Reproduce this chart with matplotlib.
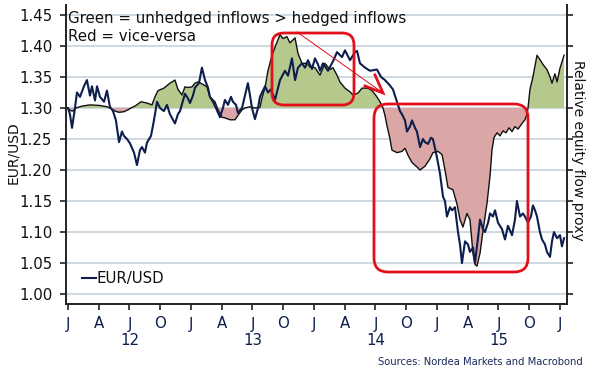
import matplotlib
matplotlib.use("Agg")
import matplotlib.pyplot as plt
import matplotlib.transforms as mtransforms
from matplotlib.patches import FancyBboxPatch
from matplotlib.lines import Line2D
import numpy as np

# ---------------- data ----------------
# EUR/USD (left axis), x in decimal years
eur_x = [2012.000, 2012.016, 2012.033, 2012.057, 2012.073, 2012.098, 2012.130, 2012.154, 2012.179, 2012.195,
         2012.220, 2012.236, 2012.260, 2012.293, 2012.317, 2012.341, 2012.366, 2012.390, 2012.415, 2012.439,
         2012.455, 2012.480, 2012.504, 2012.537, 2012.561, 2012.585, 2012.602, 2012.626, 2012.642, 2012.675,
         2012.699, 2012.724, 2012.748, 2012.780, 2012.805, 2012.829, 2012.870, 2012.894, 2012.911, 2012.951,
         2012.976, 2012.992, 2013.016, 2013.033, 2013.065, 2013.089, 2013.114, 2013.138, 2013.154, 2013.179,
         2013.203, 2013.236, 2013.260, 2013.276, 2013.301, 2013.325, 2013.341, 2013.366, 2013.382, 2013.415,
         2013.439, 2013.463, 2013.480, 2013.496, 2013.520, 2013.545, 2013.561, 2013.585, 2013.602, 2013.626,
         2013.650, 2013.683, 2013.724, 2013.764, 2013.789, 2013.821, 2013.846, 2013.870, 2013.902, 2013.927,
         2013.951, 2013.984, 2014.008, 2014.033, 2014.049, 2014.073, 2014.114, 2014.154, 2014.187, 2014.228,
         2014.252, 2014.293, 2014.333, 2014.350, 2014.374, 2014.415, 2014.455, 2014.512, 2014.545, 2014.577,
         2014.610, 2014.642, 2014.675, 2014.699, 2014.715, 2014.740, 2014.756, 2014.780, 2014.797, 2014.821,
         2014.837, 2014.862, 2014.886, 2014.902, 2014.927, 2014.951, 2014.967, 2014.984, 2015.000, 2015.024,
         2015.049, 2015.065, 2015.081, 2015.106, 2015.122, 2015.146, 2015.171, 2015.187, 2015.203, 2015.228,
         2015.252, 2015.268, 2015.293, 2015.309, 2015.333, 2015.350, 2015.374, 2015.390, 2015.415, 2015.431,
         2015.455, 2015.472, 2015.496, 2015.528, 2015.553, 2015.577, 2015.610, 2015.634, 2015.650, 2015.675,
         2015.699, 2015.715, 2015.740, 2015.764, 2015.780, 2015.797, 2015.813, 2015.837, 2015.854, 2015.878,
         2015.894, 2015.919, 2015.935, 2015.951, 2015.976, 2016.000, 2016.016, 2016.033]
eur_y = [1.300, 1.290, 1.268, 1.300, 1.325, 1.318, 1.335, 1.345, 1.320, 1.335,
         1.312, 1.335, 1.318, 1.310, 1.328, 1.302, 1.295, 1.280, 1.245, 1.262,
         1.255, 1.250, 1.243, 1.228, 1.208, 1.232, 1.237, 1.228, 1.244, 1.255,
         1.280, 1.310, 1.300, 1.295, 1.305, 1.290, 1.275, 1.290, 1.295, 1.323,
         1.315, 1.308, 1.320, 1.333, 1.340, 1.365, 1.345, 1.333, 1.318, 1.310,
         1.300, 1.285, 1.300, 1.313, 1.305, 1.318, 1.310, 1.305, 1.292, 1.300,
         1.320, 1.340, 1.320, 1.300, 1.282, 1.300, 1.318, 1.328, 1.335, 1.325,
         1.330, 1.313, 1.345, 1.360, 1.352, 1.380, 1.345, 1.365, 1.372, 1.365,
         1.377, 1.363, 1.380, 1.370, 1.360, 1.372, 1.360, 1.375, 1.390, 1.382,
         1.393, 1.377, 1.390, 1.392, 1.372, 1.365, 1.360, 1.362, 1.350, 1.345,
         1.338, 1.330, 1.310, 1.295, 1.290, 1.280, 1.262, 1.270, 1.280, 1.268,
         1.262, 1.237, 1.250, 1.245, 1.242, 1.252, 1.250, 1.235, 1.220, 1.195,
         1.157, 1.150, 1.125, 1.140, 1.135, 1.140, 1.100, 1.080, 1.050, 1.085,
         1.080, 1.068, 1.075, 1.050, 1.090, 1.120, 1.105, 1.100, 1.115, 1.130,
         1.125, 1.135, 1.115, 1.105, 1.088, 1.110, 1.095, 1.120, 1.150, 1.125,
         1.130, 1.125, 1.115, 1.125, 1.143, 1.135, 1.125, 1.100, 1.088, 1.080,
         1.068, 1.060, 1.085, 1.100, 1.090, 1.095, 1.077, 1.090]

# Relative equity flow proxy (right axis, drawn on the same scale; 1.30 = neutral)
flow_x = [2012.000, 2012.016, 2012.041, 2012.065, 2012.114, 2012.179, 2012.260, 2012.317, 2012.350, 2012.382,
          2012.415, 2012.455, 2012.488, 2012.512, 2012.553, 2012.593, 2012.642, 2012.683, 2012.707, 2012.732,
          2012.780, 2012.829, 2012.870, 2012.894, 2012.927, 2012.951, 2012.976, 2013.008, 2013.033, 2013.057,
          2013.098, 2013.130, 2013.154, 2013.195, 2013.220, 2013.252, 2013.276, 2013.317, 2013.358, 2013.382,
          2013.415, 2013.439, 2013.480, 2013.520, 2013.561, 2013.577, 2013.602, 2013.626, 2013.659, 2013.683,
          2013.724, 2013.748, 2013.780, 2013.805, 2013.846, 2013.870, 2013.902, 2013.943, 2013.967, 2014.008,
          2014.049, 2014.089, 2014.130, 2014.154, 2014.187, 2014.211, 2014.252, 2014.293, 2014.317, 2014.358,
          2014.390, 2014.439, 2014.472, 2014.504, 2014.537, 2014.561, 2014.577, 2014.593, 2014.618, 2014.634,
          2014.675, 2014.715, 2014.740, 2014.764, 2014.797, 2014.837, 2014.862, 2014.902, 2014.943, 2014.967,
          2015.008, 2015.041, 2015.065, 2015.089, 2015.130, 2015.163, 2015.187, 2015.211, 2015.244, 2015.268,
          2015.293, 2015.309, 2015.325, 2015.350, 2015.366, 2015.407, 2015.431, 2015.447, 2015.463, 2015.488,
          2015.512, 2015.537, 2015.561, 2015.585, 2015.610, 2015.634, 2015.659, 2015.691, 2015.715, 2015.732,
          2015.740, 2015.756, 2015.780, 2015.813, 2015.837, 2015.862, 2015.894, 2015.919, 2015.935, 2015.959,
          2015.976, 2016.000, 2016.033]
flow_y = [1.300, 1.296, 1.295, 1.300, 1.303, 1.305, 1.304, 1.302, 1.299, 1.295,
          1.293, 1.294, 1.297, 1.300, 1.304, 1.310, 1.308, 1.305, 1.318, 1.328,
          1.332, 1.340, 1.345, 1.330, 1.321, 1.334, 1.333, 1.334, 1.340, 1.342,
          1.338, 1.334, 1.318, 1.310, 1.297, 1.285, 1.284, 1.281, 1.281, 1.288,
          1.297, 1.300, 1.302, 1.300, 1.301, 1.316, 1.333, 1.360, 1.385, 1.398,
          1.418, 1.412, 1.415, 1.405, 1.413, 1.388, 1.372, 1.372, 1.366, 1.365,
          1.353, 1.372, 1.362, 1.365, 1.353, 1.342, 1.332, 1.326, 1.321, 1.324,
          1.332, 1.332, 1.328, 1.320, 1.310, 1.300, 1.288, 1.272, 1.250, 1.232,
          1.228, 1.230, 1.235, 1.224, 1.212, 1.205, 1.200, 1.206, 1.218, 1.228,
          1.230, 1.225, 1.200, 1.172, 1.168, 1.145, 1.120, 1.108, 1.130, 1.120,
          1.065, 1.048, 1.045, 1.066, 1.090, 1.147, 1.190, 1.232, 1.252, 1.260,
          1.255, 1.263, 1.260, 1.268, 1.262, 1.270, 1.266, 1.275, 1.281, 1.290,
          1.300, 1.330, 1.350, 1.385, 1.378, 1.370, 1.362, 1.350, 1.340, 1.355,
          1.342, 1.364, 1.385]

flow_neutral = 1.30
y_ticks = [1.00, 1.05, 1.10, 1.15, 1.20, 1.25, 1.30, 1.35, 1.40, 1.45]
x_tick_pos = [2012 + q * 0.25 for q in range(17)]
x_tick_labels = ["J", "A", "J", "O"] * 4 + ["J"]
year_labels = ["12", "13", "14", "15"]
year_pos = [2012.5, 2013.5, 2014.5, 2015.5]

# ---------------- styling ----------------
plt.rcParams['font.family'] = ['DejaVu Sans']
NAVY = "#0d1e4e"
GREEN = "#b5c98d"
RED_FILL = "#dba7a6"
RED = "#e2101b"
GRID = "#cad6de"
TXT = "#111111"

W, H = 594, 369
fig = plt.figure(figsize=(W / 100, H / 100), dpi=100)
ax = fig.add_axes([66 / W, 65 / H, 501 / W, 299 / H])

fx = np.array(flow_x)
fy = np.array(flow_y)
ax.fill_between(fx, fy, flow_neutral, where=fy >= flow_neutral, interpolate=True,
                color=GREEN, lw=0, zorder=2)
ax.fill_between(fx, fy, flow_neutral, where=fy <= flow_neutral, interpolate=True,
                color=RED_FILL, lw=0, zorder=2)
ax.plot(fx, fy, color="#111111", lw=1.0, zorder=3)
ax.plot(eur_x, eur_y, color=NAVY, lw=1.5, zorder=4, label="EUR/USD")

ax.set_xlim(2011.984, 2016.057)
ax.set_ylim(0.984, 1.466)
ax.set_yticks(y_ticks)
ax.set_yticklabels([f"{v:.2f}" for v in y_ticks])
ax.set_xticks(x_tick_pos)
ax.set_xticklabels(x_tick_labels)
ax.yaxis.grid(True, color=GRID, lw=1.3)
ax.set_axisbelow(True)

for s in ["left", "bottom", "right"]:
    ax.spines[s].set_color("#222222")
    ax.spines[s].set_linewidth(1.4)
ax.spines["top"].set_visible(False)
ax.tick_params(axis="y", direction="out", length=4, width=1.2, labelsize=10.8,
               colors="#222222", labelcolor=TXT, right=True, labelright=False, pad=6)
ax.tick_params(axis="x", direction="out", length=4, width=1.2, labelsize=10.8,
               colors="#222222", labelcolor="#0d1e4e", pad=5)

trans = mtransforms.blended_transform_factory(ax.transData, ax.transAxes)
for xp, lab in zip(year_pos, year_labels):
    ax.text(xp, -0.122, lab, transform=trans, ha="center", va="center",
            fontsize=10.8, color="#0d1e4e")

fig.text(13 / W, 1 - 153 / H, "EUR/USD", rotation=90,
         ha="center", va="center", fontsize=10, color=TXT)
fig.text(578 / W, 1 - 150 / H, "Relative equity flow proxy", rotation=270,
         ha="center", va="center", fontsize=10, color=TXT)

fig.text(68 / W, 1 - 23 / H, "Green = unhedged inflows > hedged inflows",
         ha="left", va="baseline", fontsize=10.8, color=TXT)
fig.text(68 / W, 1 - 41 / H, "Red = vice-versa",
         ha="left", va="baseline", fontsize=10.8, color=TXT)

leg = ax.legend(loc="center left", bbox_to_anchor=((82 - 66) / 501, (304 - 279) / 299),
                frameon=False, handlelength=0.9, handletextpad=0.1, borderpad=0,
                borderaxespad=0, fontsize=10.8)
for t in leg.get_texts():
    t.set_color(TXT)

fig.text(583 / W, 1 - 362 / H, "Sources: Nordea Markets and Macrobond",
         ha="right", va="center", fontsize=7.2, color="#1b2a5a")

# annotation boxes and arrow (in inches on the figure)
inch = fig.dpi_scale_trans
box1 = FancyBboxPatch((2.72, (H - 105) / 100), 0.82, 0.72,
                      boxstyle="round,pad=0,rounding_size=0.12",
                      transform=inch, fill=False, edgecolor=RED, lw=2.0,
                      clip_on=False, zorder=6)
box2 = FancyBboxPatch((3.74, (H - 272) / 100), 1.54, 1.68,
                      boxstyle="round,pad=0,rounding_size=0.14",
                      transform=inch, fill=False, edgecolor=RED, lw=2.0,
                      clip_on=False, zorder=6)
ax.add_patch(box1)
ax.add_patch(box2)
tip = (3.83, (H - 93) / 100)
ax.add_line(Line2D([2.97, tip[0]], [(H - 32) / 100, tip[1]], transform=inch,
                   color=RED, lw=0.7, clip_on=False, zorder=6))
ax.add_line(Line2D([3.75, tip[0], 3.65], [(H - 75) / 100, tip[1], (H - 86) / 100],
                   transform=inch, color=RED, lw=2.0, clip_on=False, zorder=6,
                   solid_joinstyle="miter"))

fig.savefig("out.png", dpi=100)
